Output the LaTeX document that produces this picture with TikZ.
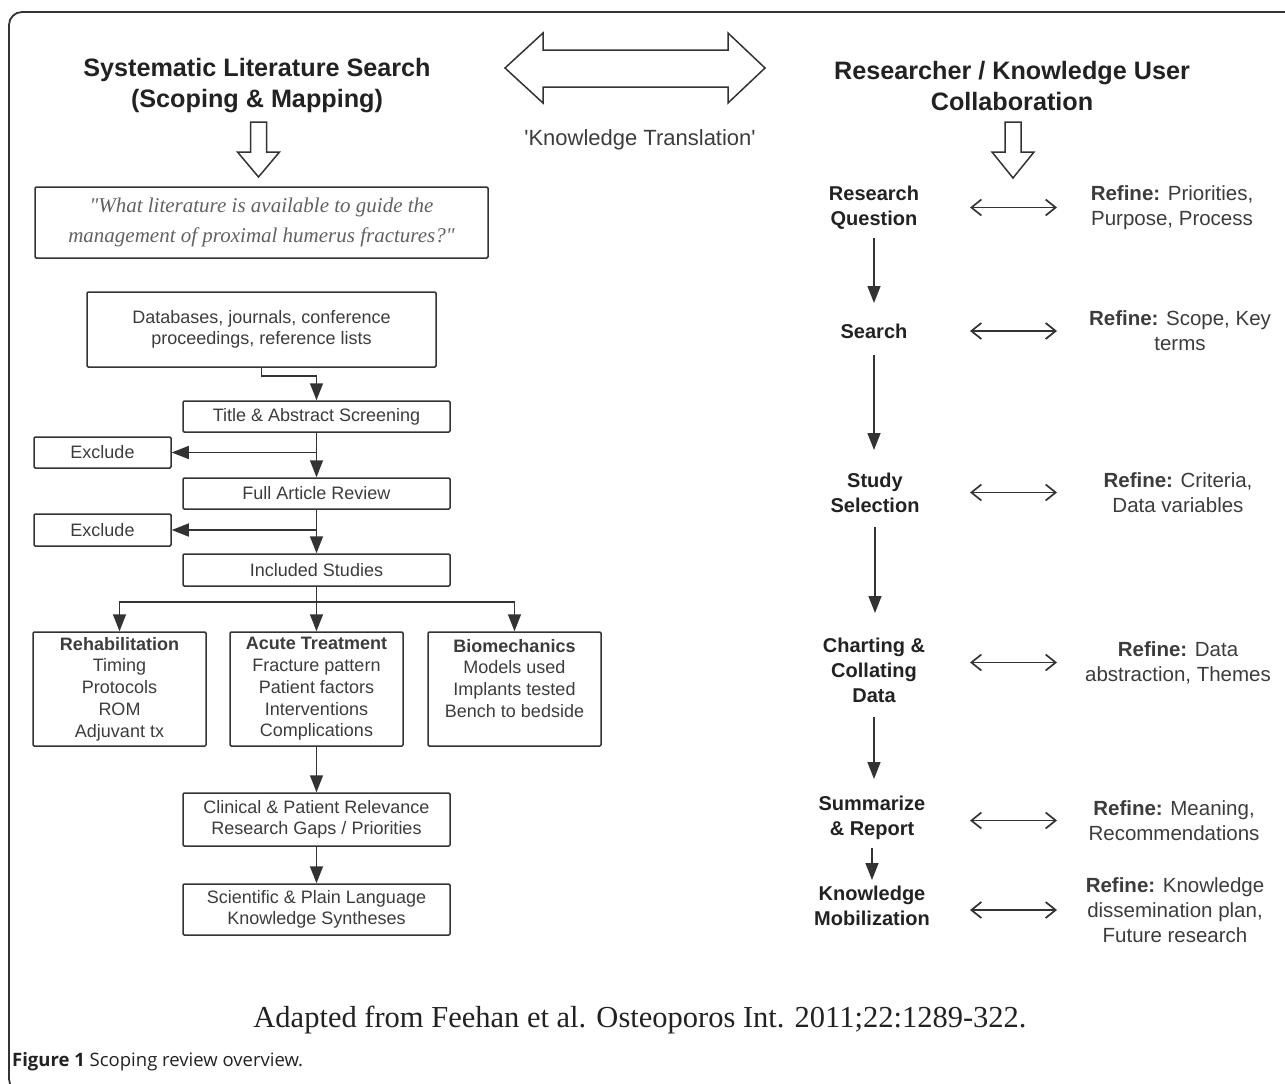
\documentclass[tikz,border=0pt]{standalone}
\usepackage{fontspec}
\setmainfont{Liberation Sans}
\newfontfamily\qfont{Liberation Serif}
\newfontfamily\capfont{Open Sans}
\usetikzlibrary{arrows.meta,calc}
\definecolor{ink}{HTML}{333333}
\definecolor{txt}{HTML}{3C3C3C}
\definecolor{dark}{HTML}{222222}
\begin{document}
\begin{tikzpicture}[x=1pt,y=-1pt,
  box/.style={draw=ink, line width=1.5pt, rounded corners=1.2pt, inner sep=0pt, align=center, text=txt, font=\fontsize{18}{21}\selectfont},
  catbox/.style={box, minimum width=173pt, minimum height=114pt, font=\fontsize{18}{21.7}\selectfont},
  flow/.style={draw=ink, line width=1.5pt, -{Triangle[length=17pt,width=13pt]}},
  ttl/.style={font=\bfseries\fontsize{25.2}{31}\selectfont, align=center, text=dark, inner sep=0pt},
  stage/.style={font=\bfseries\fontsize{20}{25}\selectfont, align=center, text=dark, inner sep=0pt},
  refine/.style={font=\fontsize{20.5}{25}\selectfont, align=center, text=txt, inner sep=0pt},
  dbl/.style={draw=ink, line width=1.7pt, {Straight Barb[length=10pt,width=16pt]}-{Straight Barb[length=10pt,width=16pt]}},
  hollow/.style={draw=ink, line width=1.5pt, fill=white, line join=miter}
]
\useasboundingbox (0,0) rectangle (1285,1084);
\begin{scope}
  \clip (0,0) rectangle (1285,1084);
  \draw[ink, line width=1.8pt, rounded corners=13pt] (9,12) rectangle (1320,1092);
\end{scope}

% titles
\node[ttl] (lt) at (257,86) {Systematic Literature Search\\(Scoping \& Mapping)};
\node[ttl] (rt) at (1012,86) {Researcher / Knowledge User\\Collaboration};

% hollow arrows
\draw[hollow] (250.5,122) -- (266.5,122) -- (266.5,152) -- (279.5,152) -- (258.5,177) -- (237.5,152) -- (250.5,152) -- cycle;
\draw[hollow] (1005,122) -- (1021,122) -- (1021,152) -- (1034,152) -- (1013,178) -- (992,152) -- (1005,152) -- cycle;
\draw[hollow] (505,68) -- (543,33) -- (543,50) -- (728,50) -- (728,33) -- (765,68) -- (728,103) -- (728,87) -- (543,87) -- (543,103) -- cycle;
\node[font=\fontsize{22}{26}\selectfont, text=txt] (kt) at (640,140) {\textquotesingle Knowledge Translation\textquotesingle};

% left flow
\node[box, minimum width=453pt, minimum height=71pt, font=\qfont\itshape\fontsize{21}{30}\selectfont, text=black!62] (q) at (261.5,222.5) {"What literature is available to guide the\\management of proximal humerus fractures?"};
\node[box, minimum width=349pt, minimum height=75pt] (db) at (261.5,329.5) {Databases, journals, conference\\proceedings, reference lists};
\node[box, minimum width=267pt, minimum height=31pt] (tas) at (316.5,416.5) {Title \& Abstract Screening};
\node[box, minimum width=137pt, minimum height=31pt] (ex1) at (102.5,452.5) {Exclude};
\node[box, minimum width=267pt, minimum height=31pt] (far) at (316.5,493.5) {Full Article Review};
\node[box, minimum width=137pt, minimum height=32pt] (ex2) at (102.5,530) {Exclude};
\node[box, minimum width=267pt, minimum height=32pt] (inc) at (316.5,570) {Included Studies};
\node[catbox] (c1) at (119.5,689) {\textbf{Rehabilitation}\\Timing\\Protocols\\ROM\\Adjuvant tx};
\node[catbox] (c2) at (316.5,689) {\textbf{Acute Treatment}\\Fracture pattern\\Patient factors\\Interventions\\Complications};
\node[catbox] (c3) at (514.5,689) {\textbf{Biomechanics}\\Models used\\Implants tested\\Bench to bedside\\\mbox{}};
\node[box, minimum width=267pt, minimum height=53pt] (clin) at (316.5,819.5) {Clinical \& Patient Relevance\\Research Gaps / Priorities};
\node[box, minimum width=267pt, minimum height=51pt] (sci) at (316.5,909.5) {Scientific \& Plain Language\\Knowledge Syntheses};

\draw[flow] (db.south) -- ++(0,8) -| (tas.north);
\draw[flow] (tas) -- (far);
\draw[flow] (tas.south |- ex1.east) -- (ex1.east);
\draw[flow] (far) -- (inc);
\draw[flow] (far.south |- ex2.east) -- (ex2.east);
\draw[flow] (inc.south) -- ++(0,15) -| (c1.north);
\draw[flow] (inc) -- (c2);
\draw[flow] (inc.south) -- ++(0,15) -| (c3.north);
\draw[flow] (c2) -- (clin);
\draw[flow] (clin) -- (sci);

% right flow
\node[stage] (rq) at (874,208) {Research\\Question};
\node[stage] (srch) at (874,331) {Search};
\node[stage] (ss) at (875,492.5) {Study\\Selection};
\node[stage] (cd) at (874,670) {Charting \&\\Collating\\Data};
\node[stage] (sr) at (872,817.5) {Summarize\\\& Report};
\node[stage] (km) at (872,905.5) {Knowledge\\Mobilization};

\node[refine] (r1) at (1172,207.5) {\textbf{Refine:} Priorities,\\Purpose, Process};
\node[refine] (r2) at (1180,331) {\textbf{Refine:} Scope, Key\\terms};
\node[refine] (r3) at (1178,492.5) {\textbf{Refine:} Criteria,\\Data variables};
\node[refine] (r4) at (1178,662.5) {\textbf{Refine:} Data\\abstraction, Themes};
\node[refine] (r5) at (1174,820.5) {\textbf{Refine:} Meaning,\\Recommendations};
\node[refine] (r6) at (1175,910) {\textbf{Refine:} Knowledge\\dissemination plan,\\Future research};

\draw[flow] ([yshift=-30pt]rq.center) -- ([yshift=28pt]srch.center);
\draw[flow] ([yshift=-24pt]srch.center) -- ([yshift=42.5pt]srch.center |- ss.center);
\draw[flow] ([yshift=-34.5pt]ss.center) -- ([yshift=57pt]ss.center |- cd.center);
\draw[flow] ([yshift=-47pt]cd.center) -- ([yshift=38.5pt]cd.center |- sr.center);
\draw[flow] ([yshift=-30.5pt]sr.center) -- ([yshift=25.5pt]km.center);

\coordinate (lx) at (970,0);
\coordinate (rx) at (1057,0);
\foreach \r in {r1,r2,r3,r4,r5,r6}{
  \draw[dbl] (\r -| lx) -- (\r -| rx);
}

% captions
\node[font=\qfont\fontsize{30.5}{36}\selectfont, text=dark] (src) at (640,1020) {Adapted from Feehan et al. Osteoporos Int. 2011;22:1289-322.};
\node[anchor=west, inner sep=0pt, font=\capfont\fontsize{18.5}{21}\selectfont, text=dark] (fig) at (12,1062) {\textbf{Figure 1} Scoping review overview.};
\end{tikzpicture}
\end{document}
